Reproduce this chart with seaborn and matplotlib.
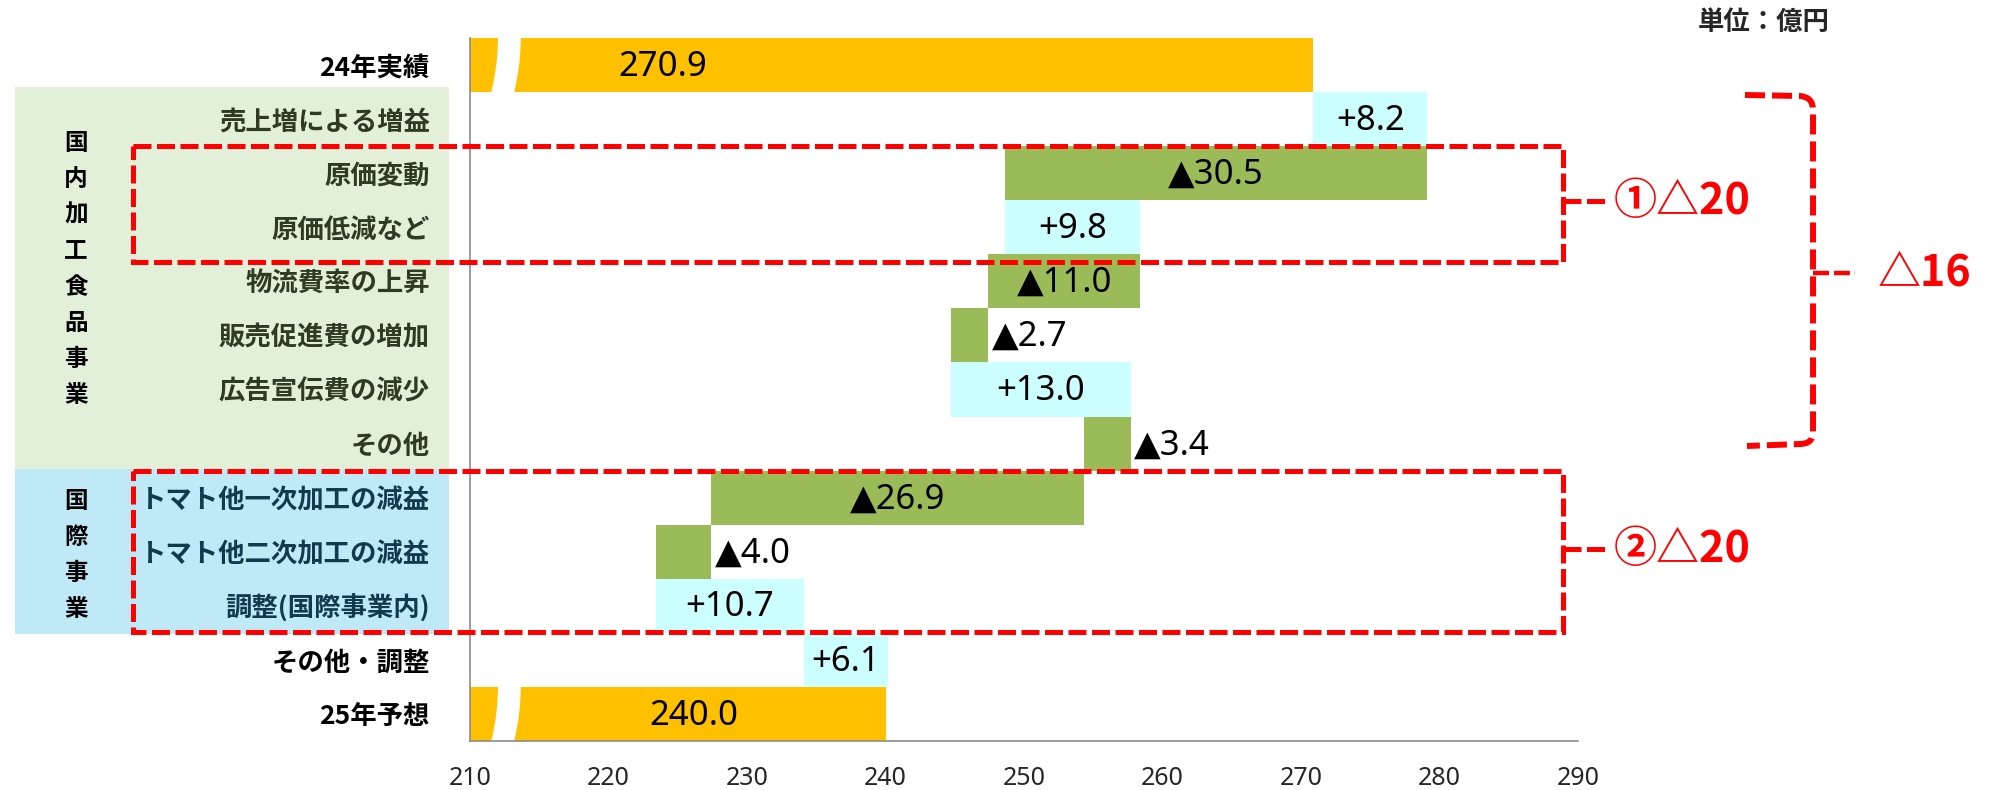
import matplotlib
matplotlib.use('Agg')
import numpy as np
import pandas as pd
import matplotlib.pyplot as plt
import seaborn as sns
from matplotlib.patches import Rectangle, PathPatch
from matplotlib.path import Path
from matplotlib.transforms import Affine2D

# --- data (億円) ---
labels = ['24年実績', '売上増による増益', '原価変動', '原価低減など', '物流費率の上昇',
          '販売促進費の増加', '広告宣伝費の減少', 'その他', 'トマト他一次加工の減益',
          'トマト他二次加工の減益', '調整(国際事業内)', 'その他・調整', '25年予想']
changes = [270.9, 8.2, -30.5, 9.8, -11.0, -2.7, 13.0, -3.4, -26.9, -4.0, 10.7, 6.1, 240.0]
kinds = ['total', 'up', 'down', 'up', 'down', 'down', 'up', 'down',
         'down', 'down', 'up', 'up', 'total']
groups = ['', '国内', '国内', '国内', '国内', '国内', '国内', '国内',
          '国際', '国際', '国際', '', '']
xticks = [210, 220, 230, 240, 250, 260, 270, 280, 290]

W, H = 1999, 790

# waterfall geometry
lefts, widths = [], []
level = 0
for v, k in zip(changes, kinds):
    if k == 'total':
        lefts.append(0)
        widths.append(v)
        level = v
    else:
        start = level
        level = level + v
        lefts.append(min(start, level))
        widths.append(abs(v))

def fmt(v, k):
    if k == 'total':
        return f'{v:.1f}'
    if v >= 0:
        return f'+{v:.1f}'
    return f'▲{abs(v):.1f}'

sns.set_style('white')
plt.rcParams['font.family'] = ['Noto Sans CJK JP', 'DejaVu Sans']

fig = plt.figure(figsize=(W / 100, H / 100), dpi=100)
ax = fig.add_axes([470 / W, 1 - 741 / H, 1108 / W, 703 / H])
pix = Affine2D().scale(1 / W, -1 / H).translate(0, 1) + fig.transFigure

df = pd.DataFrame({'項目': labels, 'width': widths, 'kind': kinds})
palette = {'total': '#FFC000', 'up': '#CCFFFF', 'down': '#9BBB59'}
sns.barplot(data=df, y='項目', x='width', hue='kind', palette=palette, orient='h',
            width=1.0, dodge=False, legend=False, saturation=1, linewidth=0, ax=ax)

# move each bar to its waterfall start
for p in list(ax.patches):
    row = int(round(p.get_y() + p.get_height() / 2))
    p.set_x(lefts[row])
    p.set_width(widths[row])

ax.set_xlim(210, 290)
ax.set_ylim(len(labels) - 0.5, -0.5)
ax.set_xticks(xticks)
ax.set_xlabel('')
ax.set_ylabel('')
for s in ['top', 'right']:
    ax.spines[s].set_visible(False)
for s in ['left', 'bottom']:
    ax.spines[s].set_color('#8C8C8C')
    ax.spines[s].set_linewidth(1.2)
ax.tick_params(axis='x', direction='out', length=5, width=1, color='#8C8C8C',
               labelsize=18, pad=13)
for t in ax.get_xticklabels():
    t.set_family(['Noto Sans', 'DejaVu Sans'])
ax.tick_params(axis='y', length=0, pad=29, labelsize=19)
label_colors = {'': 'black', '国内': '#2E3B22', '国際': '#123A4C'}
for t, g in zip(ax.get_yticklabels(), groups):
    t.set_fontweight('bold')
    t.set_color(label_colors[g])

# axis-break marks on the total bars
brk, brk_w, slant, bow = 212.6, 1.65, 0.5, 0.12
tt = np.linspace(0, 1, 9)
for i, k in enumerate(kinds):
    if k != 'total':
        continue
    ys = i - 0.52 + 1.04 * tt
    off = slant * (tt - 0.5) * -1 + bow * np.sin(np.pi * tt)
    xl = brk - brk_w / 2 + off
    xr = brk + brk_w / 2 + off
    ax.fill(np.r_[xl, xr[::-1]], np.r_[ys, ys[::-1]], color='white', lw=0, zorder=2)

# value labels
total_label_x = {0: 223.9, 12: 226.2}
for i, (v, k) in enumerate(zip(changes, kinds)):
    if k == 'total':
        x, ha = total_label_x[i], 'center'
    elif widths[i] > 5:
        x, ha = lefts[i] + widths[i] / 2, 'center'
    else:
        x, ha = lefts[i] + widths[i] + 0.25, 'left'
    ax.text(x, i + 0.03, fmt(v, k), ha=ha, va='center', fontsize=25,
            family=['Noto Sans', 'DejaVu Sans'], color='black', zorder=4)

# group backgrounds and vertical group names
fig.add_artist(Rectangle((15, 87), 434, 382, transform=pix, color='#E2F0D9', lw=0, zorder=-1))
fig.add_artist(Rectangle((15, 469), 434, 165, transform=pix, color='#C0E9F8', lw=0, zorder=-1))
for name, cy in [('国内加工食品事業', 269), ('国際事業', 555)]:
    n = len(name)
    for j, ch in enumerate(name):
        fig.text(76, cy + (j - (n - 1) / 2) * 36, ch, transform=pix, ha='center',
                 va='center', fontsize=17, fontweight='bold', color='black')

fig.text(1830, 22, '単位：億円', transform=pix, ha='right', va='center',
         fontsize=19, fontweight='bold')

# red dashed highlight boxes
red = '#FF0000'
box_ls = (0, (3.6, 1.1))
for (y0, y1), note in [((146, 262), '①△20'), ((471, 632), '②△20')]:
    ax.add_patch(Rectangle((133, y0), 1430, y1 - y0, transform=pix, fill=False,
                           ec=red, lw=3.6, ls=box_ls, clip_on=False, zorder=6))
    cy = (y0 + y1) / 2 - 3
    ax.plot([1563, 1608], [cy, cy], transform=pix, color=red, lw=3.6, ls=box_ls,
            clip_on=False, zorder=6)
    fig.text(1614, cy, note, transform=pix, ha='left', va='center', fontsize=31,
             fontweight='bold', color=red)

# bracket for the domestic total
verts = [(1745, 95), (1800, 96), (1813, 97), (1813, 110), (1813, 432),
         (1813, 444), (1800, 444), (1747, 446)]
codes = [Path.MOVETO, Path.LINETO, Path.CURVE3, Path.CURVE3, Path.LINETO,
         Path.CURVE3, Path.CURVE3, Path.LINETO]
ax.add_patch(PathPatch(Path(verts, codes), transform=pix, fill=False, ec=red, lw=4.3,
                       ls=(0, (3.35, 1.17)), clip_on=False, zorder=6))
ax.plot([1813, 1855], [273, 273], transform=pix, color=red, lw=3.2, ls=box_ls,
        clip_on=False, zorder=6)
fig.text(1878, 273, '△16', transform=pix, ha='left', va='center', fontsize=31,
         fontweight='bold', color=red)

fig.savefig('out.png', dpi=100)
